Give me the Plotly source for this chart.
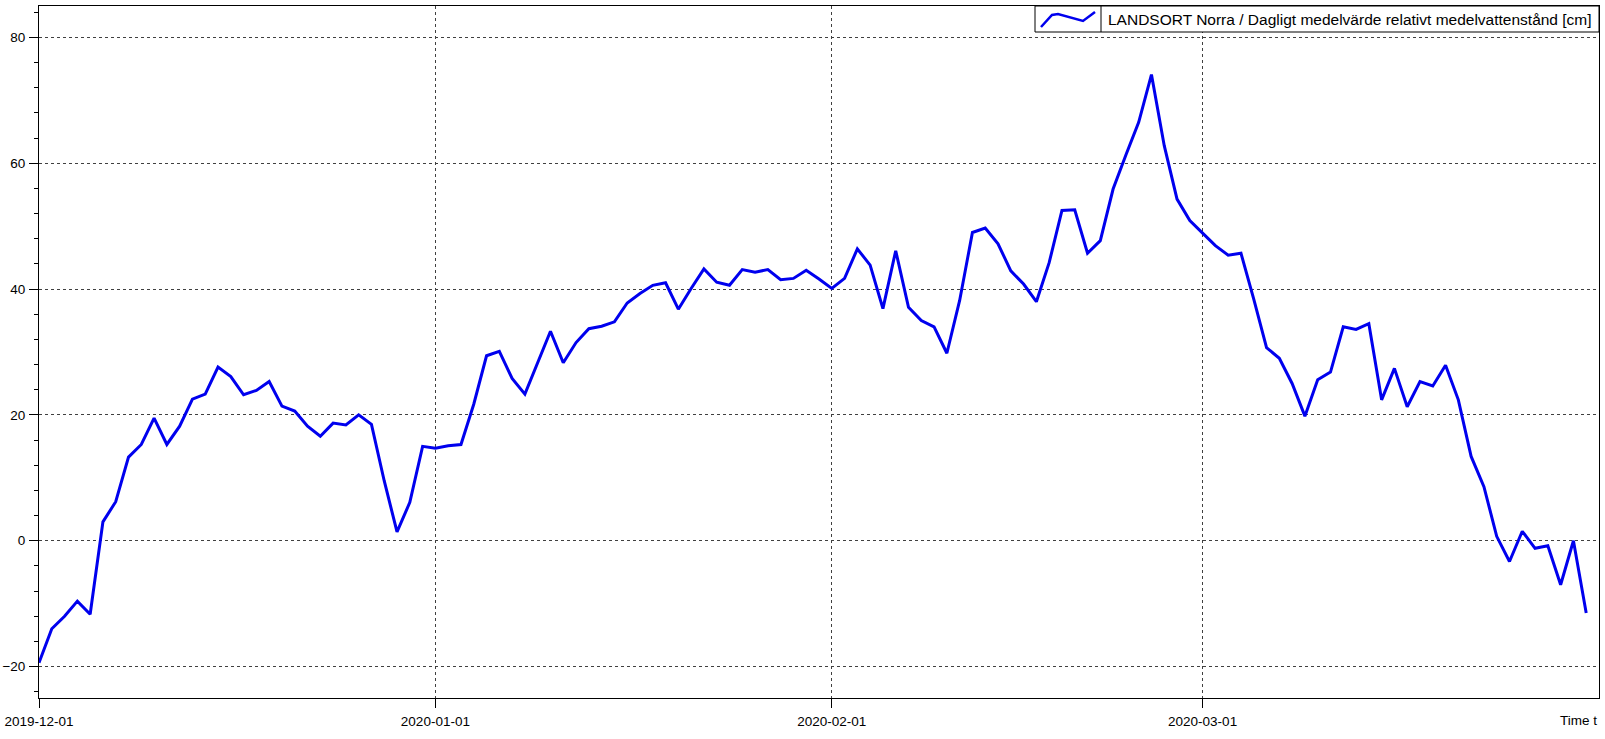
import pandas as pd
import plotly.graph_objects as go

# ---- data ----
start_date = "2019-12-01"
water_level_cm = [
    -19.4, -14.0, -12.0, -9.6, -11.7, 3.0, 6.2, 13.3, 15.3, 19.5,
    15.3, 18.2, 22.5, 23.3, 27.6, 26.1, 23.2, 23.9, 25.3, 21.4,
    20.6, 18.2, 16.6, 18.7, 18.4, 20.0, 18.5, 9.5, 1.4, 6.1,
    15.0, 14.7, 15.1, 15.3, 21.7, 29.4, 30.1, 25.8, 23.3, 28.3,
    33.3, 28.3, 31.5, 33.7, 34.1, 34.8, 37.8, 39.3, 40.6, 41.0,
    36.8, 40.1, 43.2, 41.1, 40.6, 43.1, 42.7, 43.1, 41.5, 41.7,
    43.0, 41.6, 40.1, 41.7, 46.4, 43.8, 36.9, 46.1, 37.1, 35.0,
    34.0, 29.8, 38.2, 49.0, 49.7, 47.2, 42.9, 40.8, 38.0, 44.2,
    52.5, 52.6, 45.7, 47.7, 55.9, 61.3, 66.5, 74.1, 62.8, 54.3,
    50.9, 48.9, 46.9, 45.4, 45.7, 38.4, 30.7, 29.0, 25.0, 19.8,
    25.6, 26.8, 34.0, 33.6, 34.5, 22.4, 27.4, 21.3, 25.3, 24.6,
    27.9, 22.4, 13.4, 8.6, 0.7, -3.3, 1.5, -1.2, -0.8, -7.0,
    0.0, -11.5,
]
dates = pd.date_range(start_date, periods=len(water_level_cm), freq="D")
x_tick_vals = ["2019-12-01", "2020-01-01", "2020-02-01", "2020-03-01"]
x_tick_text = ["2019-12-01", "2020-01-01", "2020-02-01", "2020-03-01"]
y_tick_vals = [-20, 0, 20, 40, 60, 80]
series_name = "LANDSORT Norra / Dagligt medelvärde relativt medelvattenstånd [cm]"
x_axis_label = "Time t"

# ---- layout geometry (pixels) ----
W, H = 1605, 739
L, R, T, B = 39, 1599, 6, 698
def px(x):
    return (x - L) / (R - L)
def py(y):
    return (B - y) / (B - T)

FONT = "Liberation Sans, Arial, sans-serif"
LINE_COLOR = "#0000EE"
GRID = "#404040"

fig = go.Figure()
fig.add_trace(go.Scatter(
    x=dates, y=water_level_cm, mode="lines", name=series_name,
    line=dict(color=LINE_COLOR, width=3), showlegend=False,
))

fig.update_layout(
    width=W, height=H,
    margin=dict(l=L, r=W - R, t=T, b=H - B, pad=0, autoexpand=False),
    paper_bgcolor="white", plot_bgcolor="white",
    font=dict(family=FONT, size=13, color="black"),
    xaxis=dict(
        range=["2019-12-01", "2020-04-01"], automargin=False,
        tickmode="array", tickvals=x_tick_vals, ticktext=x_tick_text,
        ticks="outside", ticklen=9, tickcolor="black", tickwidth=1,
        showline=True, linecolor="black", linewidth=1, mirror=True,
        showgrid=True, gridcolor=GRID, gridwidth=1, griddash="3px,3px",
        zeroline=False, tickfont=dict(size=13.5), ticklabelstandoff=2,
    ),
    yaxis=dict(
        range=[-25, 85], automargin=False,
        tickmode="array", tickvals=y_tick_vals,
        ticks="outside", ticklen=9, tickcolor="black", tickwidth=1,
        minor=dict(tick0=0, dtick=4, ticks="outside", ticklen=4,
                   tickcolor="black", showgrid=False),
        showline=True, linecolor="black", linewidth=1, mirror=True,
        showgrid=True, gridcolor=GRID, gridwidth=1, griddash="3px,3px",
        zeroline=False, tickfont=dict(size=13.5), ticklabelstandoff=1,
    ),
)

# custom legend box
shapes = [
    dict(type="rect", xref="paper", yref="paper",
         x0=px(1035), x1=1.0, y0=py(32), y1=1.0,
         line=dict(color="black", width=1), fillcolor="white", layer="above"),
    dict(type="line", xref="paper", yref="paper",
         x0=px(1101), x1=px(1101), y0=py(32), y1=1.0,
         line=dict(color="black", width=1), layer="above"),
    dict(type="path", xref="paper", yref="paper",
         path="M {} {} L {} {} L {} {} L {} {} L {} {}".format(
             px(1041), py(27), px(1052), py(15), px(1058), py(14),
             px(1083), py(21), px(1095), py(12)),
         line=dict(color=LINE_COLOR, width=2.5), layer="above"),
]
fig.update_layout(shapes=shapes)

fig.add_annotation(
    x=px(1106), y=py(19.5), xref="paper", yref="paper",
    xanchor="left", yanchor="middle", showarrow=False,
    text=series_name, font=dict(family=FONT, size=15.5, color="black"),
)
fig.add_annotation(
    x=px(1599), y=py(721), xref="paper", yref="paper",
    xanchor="right", yanchor="middle", showarrow=False,
    text=x_axis_label, font=dict(family=FONT, size=13.5, color="black"),
)

fig.write_html(
    "out.html",
    config={"displayModeBar": False},
    post_script="document.body.style.margin='0';document.body.style.overflow='hidden';",
)
